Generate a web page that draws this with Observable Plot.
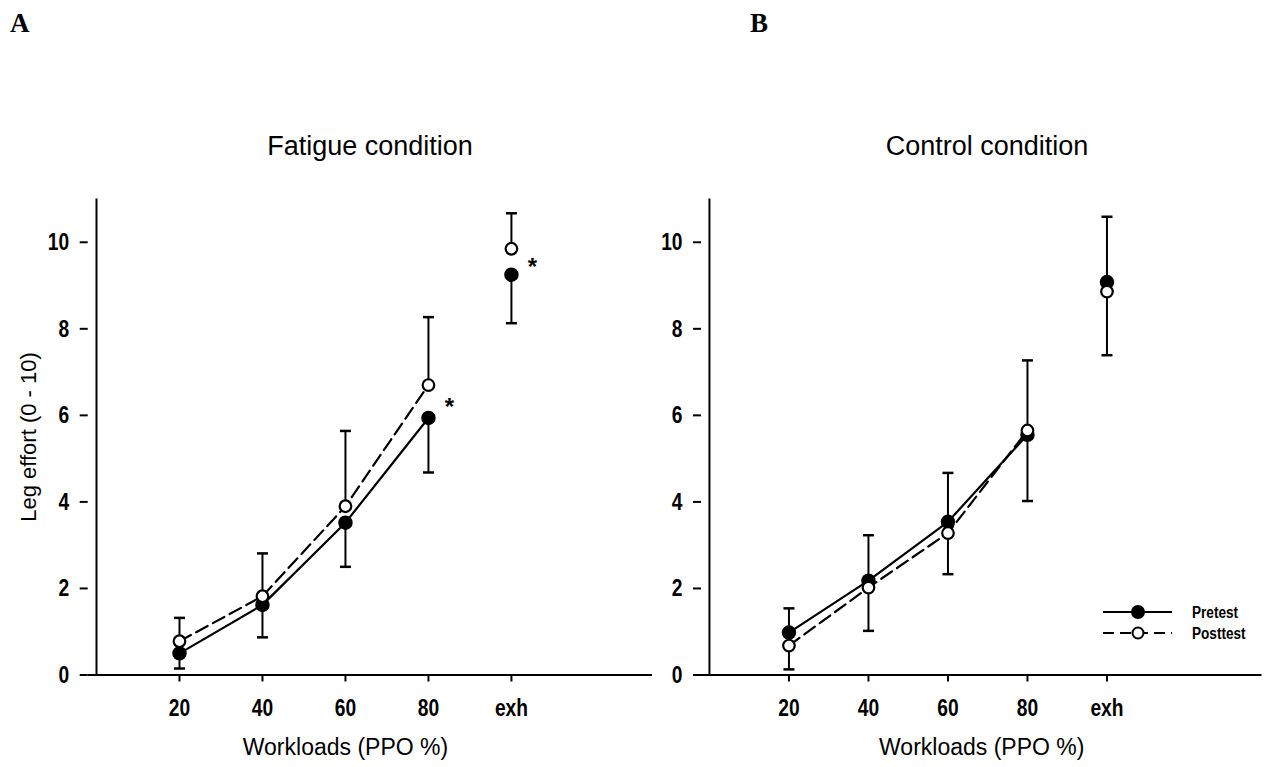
<!DOCTYPE html>
<html>
<head>
<meta charset="utf-8">
<script src="https://cdn.jsdelivr.net/npm/d3@7"></script>
<script src="https://cdn.jsdelivr.net/npm/@observablehq/plot@0.6"></script>
<style>
  body { margin: 0; background: #fff; }
  #page { position: relative; width: 1268px; height: 767px; overflow: hidden; background: #fff;
          font-family: "Liberation Sans", Arial, sans-serif; color: #000; }
  .letter { position: absolute; top: 10px; font-family: "Liberation Serif", "Times New Roman", serif;
            font-weight: bold; font-size: 27px; line-height: 1; }
  .title { position: absolute; top: 130px; font-size: 27px; transform: translateX(-50%);
           white-space: nowrap; line-height: 1.2; }
  .panel { position: absolute; top: 180px; }
  #legend { position: absolute; left: 1095px; top: 598px; }
</style>
</head>
<body>
<div id="page">
  <div class="letter" style="left:10px">A</div>
  <div class="letter" style="left:750px">B</div>
  <div class="title" style="left:370px">Fatigue condition</div>
  <div class="title" style="left:987px">Control condition</div>
  <div class="panel" id="panelA" style="left:0px"></div>
  <div class="panel" id="panelB" style="left:660px"></div>
  <div id="legend"></div>
</div>
<script>
// Workload stages on the x axis
const workloads = ["20", "40", "60", "80", "exh"];
const yTicks = [0, 2, 4, 6, 8, 10];

// Leg effort (0-10), fatigue condition
const fatiguePre = [0.5, 1.62, 3.52, 5.94, 9.25];
const fatiguePost = [0.78, 1.82, 3.9, 6.7, 9.85];
const fatiguePreSD = [0.35, 0.75, 1.02, 1.26, 1.12];   // drawn below the pretest mean
const fatiguePostSD = [0.54, 0.99, 1.74, 1.57, 0.82];  // drawn above the posttest mean
const fatigueSignificant = [false, false, false, true, true];

// Leg effort (0-10), control condition
const controlPre = [0.98, 2.18, 3.54, 5.55, 9.08];
const controlPost = [0.68, 2.02, 3.28, 5.65, 8.86];
const controlPreSD = [0.85, 1.16, 1.21, 1.53, 1.69];
const controlPostSD = [0.86, 1.21, 1.39, 1.62, 1.73];
const controlSignificant = [false, false, false, false, false];

const regular = "'Liberation Sans', Arial, sans-serif";
const narrowScale = 0.8; // tick labels are set in a condensed bold face

// Horizontal cap for the error bars, sized by the dot radius
const cap = {
  draw(context, size) {
    const w = Math.sqrt(size / Math.PI);
    context.moveTo(-w, 0);
    context.lineTo(w, 0);
  }
};

function rowsFor(pre, post, preSD, postSD, sig) {
  return workloads.map((label, i) => ({
    pos: i + 1,
    label,
    pre: pre[i],
    post: post[i],
    preLow: pre[i] - preSD[i],
    postHigh: post[i] + postSD[i],
    sig: sig[i]
  }));
}

function condense(svg) {
  svg.querySelectorAll("g[aria-label$='tick label'] text").forEach(t => {
    const tr = t.getAttribute("transform") || "";
    t.setAttribute("transform", `${tr} scale(${narrowScale},1)`);
  });
  return svg;
}

function panel({rows, width, marginLeft, marginRight, xMax, yLabel, xLabelAt}) {
  const connected = rows.filter(d => d.label !== "exh");
  const positions = rows.map(d => d.pos);
  const svg = Plot.plot({
    width,
    height: 587,
    marginLeft,
    marginRight,
    marginTop: 18.5,
    marginBottom: 92.5,
    style: {fontFamily: regular, background: "white", overflow: "visible"},
    x: {domain: [-0.1, xMax]},
    y: {domain: [0, 11]},
    marks: [
      Plot.ruleY([0], {stroke: "black", strokeWidth: 2.2}),
      Plot.ruleX([0], {y1: 0, y2: 11, stroke: "black", strokeWidth: 2}),
      Plot.axisX({
        ticks: positions, tickFormat: p => workloads[p - 1],
        tickSize: 7, tickPadding: 17, strokeWidth: 2, label: null,
        fontFamily: regular, fontSize: 24, fontWeight: "bold"
      }),
      Plot.axisY({
        ticks: yTicks, tickSize: 8, tickPadding: 11, strokeWidth: 2, label: null,
        fontFamily: regular, fontSize: 24, fontWeight: "bold"
      }),
      // error bars: pretest below its mean, posttest above
      Plot.ruleX(rows, {x: "pos", y1: "pre", y2: "preLow", stroke: "black", strokeWidth: 2}),
      Plot.ruleX(rows, {x: "pos", y1: "post", y2: "postHigh", stroke: "black", strokeWidth: 2}),
      Plot.dot(rows, {x: "pos", y: "preLow", symbol: cap, r: 5.5, stroke: "black", strokeWidth: 2.5}),
      Plot.dot(rows, {x: "pos", y: "postHigh", symbol: cap, r: 5.5, stroke: "black", strokeWidth: 2.5}),
      // series lines (exhaustion point stands alone)
      Plot.line(connected, {x: "pos", y: "pre", stroke: "black", strokeWidth: 2.2}),
      Plot.line(connected, {x: "pos", y: "post", stroke: "black", strokeWidth: 2.2, strokeDasharray: "13,6"}),
      Plot.dot(rows, {x: "pos", y: "pre", r: 6.5, fill: "black", stroke: "black"}),
      Plot.dot(rows, {x: "pos", y: "post", r: 5.8, fill: "white", stroke: "black", strokeWidth: 2.2}),
      // significance markers
      Plot.text(rows.filter(d => d.sig), {
        x: "pos", y: d => (d.pre + d.post) / 2, text: () => "*",
        dx: 21, dy: 6, fontSize: 24, fontWeight: "bold", fontFamily: regular
      }),
      // axis titles
      Plot.text(["Workloads (PPO %)"], {
        x: xLabelAt, frameAnchor: "bottom", dy: 73, lineAnchor: "middle", textAnchor: "middle",
        fontSize: 23, fontFamily: regular
      }),
      yLabel ? Plot.text([yLabel], {
        frameAnchor: "left", rotate: -90, dx: -59, lineAnchor: "middle", textAnchor: "middle",
        fontSize: 22, fontFamily: regular
      }) : null
    ]
  });
  return condense(svg);
}

const rowsA = rowsFor(fatiguePre, fatiguePost, fatiguePreSD, fatiguePostSD, fatigueSignificant);
const rowsB = rowsFor(controlPre, controlPost, controlPreSD, controlPostSD, controlSignificant);

document.getElementById("panelA").append(panel({
  rows: rowsA, width: 660, marginLeft: 87.7, marginRight: 8, xMax: 6.7,
  yLabel: "Leg effort (0 - 10)", xLabelAt: d3.mean(rowsA, d => d.pos)
}));
document.getElementById("panelB").append(panel({
  rows: rowsB, width: 608, marginLeft: 41, marginRight: 6.5, xMax: 6.95,
  yLabel: null, xLabelAt: undefined
}));

// Legend
const legend = d3.select("#legend").append("svg").attr("width", 173).attr("height", 50);
const entries = [
  {name: "Pretest", fill: "black", dash: null, r: 6},
  {name: "Posttest", fill: "white", dash: "11,6", r: 5.5}
];
entries.forEach((e, i) => {
  const g = legend.append("g").attr("transform", `translate(0,${14 + i * 21})`);
  g.append("line").attr("x1", 8).attr("x2", 77).attr("y1", 0).attr("y2", 0)
    .attr("stroke", "black").attr("stroke-width", 2.2).attr("stroke-dasharray", e.dash);
  g.append("circle").attr("cx", 43).attr("cy", 0).attr("r", e.r)
    .attr("fill", e.fill).attr("stroke", "black").attr("stroke-width", 2);
  g.append("text").attr("transform", `translate(97,0) scale(${narrowScale},1)`).attr("dy", "0.35em")
    .attr("font-family", regular).attr("font-weight", "bold").attr("font-size", 17)
    .text(e.name);
});
</script>
</body>
</html>
